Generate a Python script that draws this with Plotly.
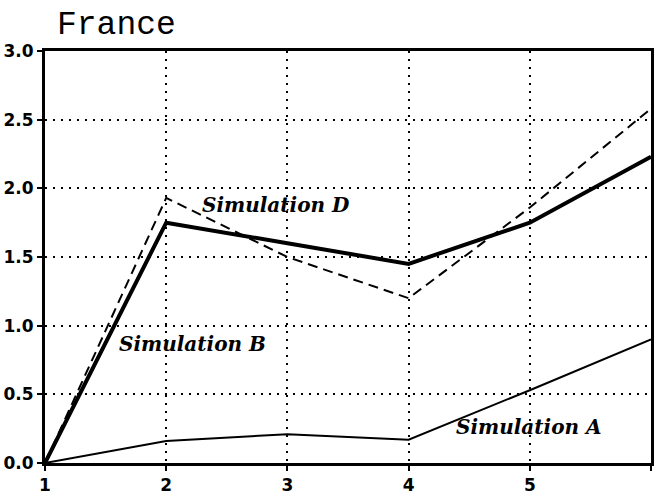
import plotly.graph_objects as go

years = [1, 2, 3, 4, 5, 6]
sim_a = [0.0, 0.16, 0.21, 0.17, 0.53, 0.90]
sim_b = [0.0, 1.75, 1.60, 1.45, 1.75, 2.23]
sim_d = [0.0, 1.93, 1.50, 1.20, 1.86, 2.58]

labels = ["Simulation D", "Simulation B", "Simulation A"]
label_x = [2.91, 2.22, 4.99]
label_y = [1.88, 0.87, 0.26]

fig = go.Figure()
fig.add_trace(go.Scatter(x=years, y=sim_a, mode="lines",
                         line=dict(color="black", width=2)))
fig.add_trace(go.Scatter(x=years, y=sim_b, mode="lines",
                         line=dict(color="black", width=4)))
fig.add_trace(go.Scatter(x=years, y=sim_d, mode="lines",
                         line=dict(color="black", width=2, dash="10px,6px")))

for txt, xx, yy in zip(labels, label_x, label_y):
    fig.add_annotation(x=xx, y=yy, text="<b><i>" + txt + "</i></b>",
                       showarrow=False,
                       font=dict(family="DejaVu Serif", size=20, color="black"))

axis_style = dict(
    showline=True, mirror=True, linecolor="black", linewidth=3,
    showgrid=True, gridcolor="black", gridwidth=1.5, griddash="1.5px,6.5px",
    ticks="outside", ticklen=5, tickwidth=2, tickcolor="black",
    zeroline=False, automargin=False,
    tickfont=dict(family="DejaVu Sans", size=17, color="black", weight="bold"),
)

fig.update_xaxes(range=[1, 6], dtick=1, **axis_style)
fig.update_yaxes(range=[0, 3], dtick=0.5, tickformat=".1f", **axis_style)

fig.update_layout(
    width=654, height=502,
    margin=dict(l=45, r=3, t=51, b=39),
    plot_bgcolor="white", paper_bgcolor="white",
    showlegend=False,
    title=dict(text="France", x=57 / 654, xanchor="left",
               y=1 - 22 / 502, yanchor="middle", automargin=False,
               font=dict(family="Liberation Mono", size=33, color="black")),
)

# drop the default page margin so the figure fills the window
fig.write_html("out.html", config={"displayModeBar": False},
               post_script="document.body.style.margin = '0';")
